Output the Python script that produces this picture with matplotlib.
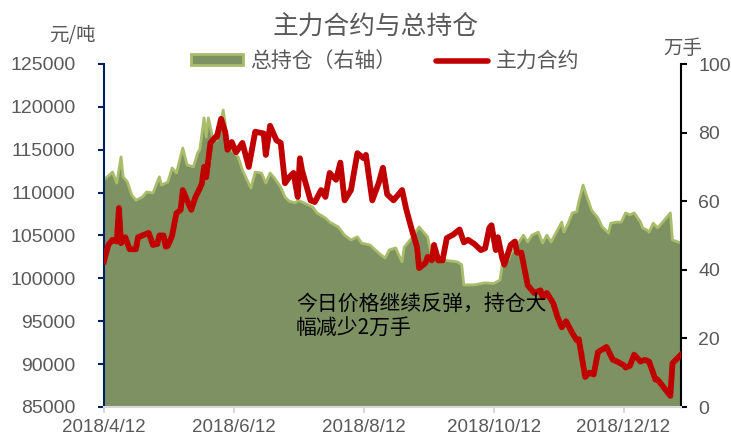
import numpy as np
import pandas as pd
import matplotlib
matplotlib.use("Agg")
import matplotlib.pyplot as plt
from matplotlib.patches import Patch
from matplotlib.lines import Line2D

plt.rcParams['font.family'] = ['Noto Sans CJK SC', 'DejaVu Sans']

# main contract price (left axis, yuan/ton)
price_dates = [
    '2018-04-12', '2018-04-14', '2018-04-16', '2018-04-18', '2018-04-19', '2018-04-20',
    '2018-04-22', '2018-04-24', '2018-04-27', '2018-04-28', '2018-05-03', '2018-05-05',
    '2018-05-07', '2018-05-08', '2018-05-10', '2018-05-11', '2018-05-12', '2018-05-14',
    '2018-05-16', '2018-05-18', '2018-05-19', '2018-05-21', '2018-05-23', '2018-05-25',
    '2018-05-27', '2018-05-28', '2018-05-29', '2018-05-30', '2018-06-01', '2018-06-03',
    '2018-06-04', '2018-06-06', '2018-06-08', '2018-06-09', '2018-06-11', '2018-06-13',
    '2018-06-16', '2018-06-19', '2018-06-22', '2018-06-26', '2018-06-27', '2018-06-29',
    '2018-07-02', '2018-07-04', '2018-07-06', '2018-07-08', '2018-07-10', '2018-07-12',
    '2018-07-13', '2018-07-14', '2018-07-18', '2018-07-20', '2018-07-23', '2018-07-25',
    '2018-07-27', '2018-07-28', '2018-07-30', '2018-08-01', '2018-08-03', '2018-08-06',
    '2018-08-09', '2018-08-12', '2018-08-13', '2018-08-16', '2018-08-19', '2018-08-21',
    '2018-08-23', '2018-08-26', '2018-08-28', '2018-08-30', '2018-09-01', '2018-09-04',
    '2018-09-06', '2018-09-07', '2018-09-10', '2018-09-11', '2018-09-13', '2018-09-14',
    '2018-09-16', '2018-09-18', '2018-09-20', '2018-09-23', '2018-09-26', '2018-09-28',
    '2018-09-30', '2018-10-03', '2018-10-06', '2018-10-08', '2018-10-10', '2018-10-11',
    '2018-10-13', '2018-10-14', '2018-10-16', '2018-10-17', '2018-10-20', '2018-10-22',
    '2018-10-23', '2018-10-25', '2018-10-28', '2018-10-30', '2018-10-31', '2018-11-03',
    '2018-11-04', '2018-11-06', '2018-11-09', '2018-11-11', '2018-11-13', '2018-11-15',
    '2018-11-18', '2018-11-20', '2018-11-21', '2018-11-24', '2018-11-26', '2018-11-28',
    '2018-11-30', '2018-12-04', '2018-12-07', '2018-12-09', '2018-12-12', '2018-12-13',
    '2018-12-15', '2018-12-17', '2018-12-20', '2018-12-22', '2018-12-24', '2018-12-27',
    '2018-12-28', '2019-01-03', '2019-01-04', '2019-01-08',
]
price = [
    102000, 103900, 104500, 104300, 108200, 104100,
    104800, 103400, 103400, 104800, 105300, 103900,
    104000, 105000, 105000, 103700, 103800, 105000,
    107600, 108000, 110300, 109100, 108000, 109500,
    110500, 111100, 113000, 111800, 115800, 116400,
    116500, 118600, 117000, 115000, 115900, 114700,
    115800, 113000, 117100, 116900, 114400, 117800,
    116100, 115800, 111100, 111800, 112300, 109500,
    114000, 112600, 109100, 108900, 110300, 109500,
    112300, 112000, 111500, 113500, 109100, 110300,
    114600, 114000, 114400, 109100, 111100, 112900,
    109800, 109100, 109700, 110300, 108000, 105300,
    103700, 101200, 101800, 102500, 102100, 103900,
    102100, 102100, 104700, 105100, 105700, 104200,
    104500, 104000, 103300, 103500, 105900, 106200,
    103300, 104800, 102400, 101600, 103900, 104300,
    103000, 103000, 99200, 98600, 98300, 98600,
    97800, 98300, 97100, 95500, 94300, 95000,
    93600, 92800, 92900, 88500, 89000, 88800,
    91400, 92000, 90500, 90300, 89900, 89600,
    89800, 91100, 90300, 90500, 90300, 88200,
    88200, 86300, 90100, 91100,
]

# total open interest (right axis, 10k lots)
oi_dates = [
    '2018-04-12', '2018-04-16', '2018-04-18', '2018-04-20', '2018-04-21', '2018-04-23',
    '2018-04-25', '2018-04-27', '2018-04-30', '2018-05-02', '2018-05-05', '2018-05-08',
    '2018-05-09', '2018-05-12', '2018-05-14', '2018-05-16', '2018-05-19', '2018-05-21',
    '2018-05-24', '2018-05-26', '2018-05-27', '2018-05-29', '2018-05-30', '2018-05-31',
    '2018-06-02', '2018-06-04', '2018-06-07', '2018-06-09', '2018-06-11', '2018-06-14',
    '2018-06-16', '2018-06-20', '2018-06-22', '2018-06-25', '2018-06-27', '2018-06-29',
    '2018-07-01', '2018-07-04', '2018-07-06', '2018-07-08', '2018-07-11', '2018-07-12',
    '2018-07-15', '2018-07-19', '2018-07-21', '2018-07-25', '2018-07-27', '2018-07-31',
    '2018-08-03', '2018-08-06', '2018-08-09', '2018-08-11', '2018-08-15', '2018-08-19',
    '2018-08-22', '2018-08-24', '2018-08-27', '2018-08-28', '2018-08-30', '2018-08-31',
    '2018-09-02', '2018-09-04', '2018-09-05', '2018-09-07', '2018-09-09', '2018-09-11',
    '2018-09-13', '2018-09-18', '2018-09-25', '2018-09-27', '2018-09-28', '2018-10-03',
    '2018-10-08', '2018-10-12', '2018-10-15', '2018-10-16', '2018-10-17', '2018-10-19',
    '2018-10-20', '2018-10-21', '2018-10-23', '2018-10-26', '2018-10-28', '2018-10-30',
    '2018-11-02', '2018-11-04', '2018-11-06', '2018-11-08', '2018-11-11', '2018-11-13',
    '2018-11-14', '2018-11-16', '2018-11-18', '2018-11-20', '2018-11-21', '2018-11-23',
    '2018-11-25', '2018-11-27', '2018-11-30', '2018-12-02', '2018-12-05', '2018-12-06',
    '2018-12-09', '2018-12-11', '2018-12-13', '2018-12-15', '2018-12-17', '2018-12-20',
    '2018-12-21', '2018-12-23', '2018-12-24', '2018-12-26', '2018-12-28', '2018-12-30',
    '2019-01-03', '2019-01-04', '2019-01-08',
]
oi = [
    66.2, 68.5, 65.3, 72.9, 67.1, 65.6,
    61.8, 60.3, 61.2, 62.7, 62.4, 67.1,
    64.7, 65.6, 69.7, 68.2, 75.5, 70.6,
    70.0, 74.1, 75.0, 84.3, 78.7, 84.3,
    78.7, 77.8, 86.6, 77.8, 74.9, 72.9,
    69.1, 63.8, 68.5, 68.2, 65.3, 68.2,
    66.8, 64.1, 61.2, 60.0, 59.5, 60.3,
    59.5, 58.3, 56.6, 55.1, 53.9, 52.5,
    50.1, 48.7, 49.6, 47.8, 47.2, 44.9,
    43.4, 45.8, 46.4, 44.9, 42.3, 46.6,
    48.1, 49.6, 50.7, 52.5, 51.0, 49.6,
    43.7, 42.9, 42.3, 41.5, 35.6, 35.6,
    36.2, 36.0, 37.0, 41.4, 42.9, 43.0,
    44.9, 45.5, 47.2, 50.1, 48.1, 50.1,
    51.0, 47.8, 50.1, 48.1, 51.6, 53.9,
    51.0, 53.6, 56.6, 56.9, 59.8, 64.7,
    60.9, 57.4, 55.1, 52.5, 50.7, 53.6,
    53.9, 53.9, 56.6, 56.0, 56.6, 53.9,
    52.2, 51.6, 51.0, 53.6, 52.2, 53.6,
    56.6, 48.7, 47.8,
]

tick_dates = ['2018-04-12', '2018-06-12', '2018-08-12', '2018-10-12', '2018-12-12']
tick_labels = ['2018/4/12', '2018/6/12', '2018/8/12', '2018/10/12', '2018/12/12']

gray = '#595959'
fill_c = '#7D9163'
edge_c = '#A8BC6A'
red = '#C00000'
num_font = 'Liberation Sans'

fig = plt.figure(figsize=(7.31, 4.40), dpi=100)
ax = fig.add_axes([104/731, 1-407/440, (681-104)/731, (407-64)/440])
ax2 = ax.twinx()

pd_price = pd.to_datetime(price_dates)
pd_oi = pd.to_datetime(oi_dates)

ax2.fill_between(pd_oi, oi, 0, facecolor=fill_c, edgecolor='none', zorder=1)
ax2.plot(pd_oi, oi, color=edge_c, lw=2, zorder=2)
ax.plot(pd_price, price, color=red, lw=4.2, solid_joinstyle='round', zorder=3)

ax.set_zorder(ax2.get_zorder() + 1)
ax.patch.set_visible(False)

ax.set_xlim(pd.Timestamp('2018-04-12'), pd.Timestamp('2019-01-08'))
ax.set_ylim(85000, 125000)
ax2.set_ylim(0, 100)
ax.set_yticks(np.arange(85000, 125001, 5000))
ax2.set_yticks(np.arange(0, 101, 20))
ax.set_xticks(pd.to_datetime(tick_dates))
ax.set_xticklabels(tick_labels)

for a in (ax, ax2):
    a.spines['top'].set_visible(False)
ax.spines['right'].set_visible(False)
ax2.spines['left'].set_visible(False)
ax.spines['left'].set_color('#002060')
ax.spines['left'].set_linewidth(1.5)
ax2.spines['right'].set_color('black')
ax2.spines['right'].set_linewidth(1.5)
ax.spines['bottom'].set_color('#D9D9D9')
ax2.spines['bottom'].set_visible(False)
ax.spines['bottom'].set_linewidth(1.5)

ax.tick_params(axis='y', colors='#002060', labelcolor=gray, labelsize=14, length=4.5, width=1.5, pad=16)
ax2.tick_params(axis='y', colors='black', labelcolor=gray, labelsize=14, length=4.5, width=1.5, pad=8)
ax.tick_params(axis='x', colors='#D9D9D9', labelcolor=gray, labelsize=13.5, length=4, width=1.5, pad=4.5)
for lab in ax.get_xticklabels() + ax.get_yticklabels() + ax2.get_yticklabels():
    lab.set_fontfamily(num_font)

fig.text(376/731, 1-27/440, '主力合约与总持仓', ha='center', va='center', fontsize=18.5, color=gray)
fig.text(72/731, 1-35/440, '元/吨', ha='center', va='center', fontsize=14, color=gray)
fig.text(683/731, 1-48/440, '万手', ha='center', va='center', fontsize=14, color=gray)

handles = [Patch(facecolor=fill_c, edgecolor=edge_c, linewidth=2),
           Line2D([0], [0], color=red, lw=4, solid_capstyle='round')]
fig.legend(handles, ['总持仓（右轴）', '主力合约'], loc='center',
           bbox_to_anchor=(385/731, 1-61/440), ncol=2, frameon=False,
           fontsize=15, labelcolor=gray, handlelength=2.5, handleheight=0.4,
           handletextpad=0.35, columnspacing=1.9, borderpad=0, borderaxespad=0)

fig.text(296/731, 1-316/440, '今日价格继续反弹，持仓大\n幅减少2万手', ha='left', va='center',
         fontsize=15, color='black', linespacing=1.2)

fig.savefig('out.png', dpi=100)
